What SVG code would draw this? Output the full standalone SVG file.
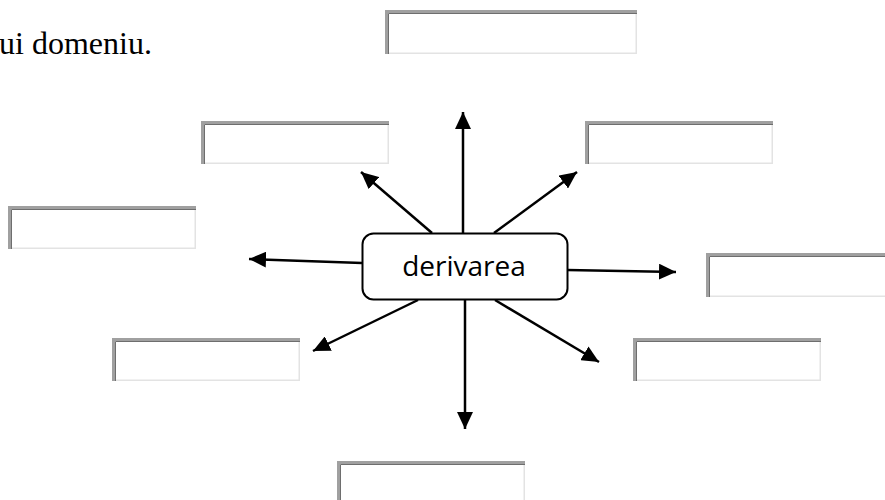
<svg xmlns="http://www.w3.org/2000/svg" width="885" height="500" viewBox="0 0 885 500">
<style>
.fb{fill:#ffffff;stroke:none}
.dk{fill:none;stroke:#a0a0a0;stroke-width:3}
.dk2{fill:none;stroke:#6e6e6e;stroke-width:1}
.lt{fill:none;stroke:#e3e3e3;stroke-width:1.5}
.con{stroke:#000;stroke-width:2.5;fill:none;marker-end:url(#ah)}
.t{font-family:"Liberation Serif","Times New Roman",serif;font-size:32px;fill:#000}
.c{font-family:"Open Sans","Liberation Sans",sans-serif;font-size:28px;fill:#000;text-anchor:middle}
</style>
<defs>
<marker id="ah" markerUnits="userSpaceOnUse" markerWidth="18" markerHeight="16" refX="17" refY="8" orient="auto" viewBox="0 0 18 16">
<path d="M0,0 L17,8 L0,16 Z" fill="#000"/>
</marker>
<g id="fieldShape">
<rect class="fb" x="0" y="0" width="188" height="43"/>
<path class="lt" d="M1,42.25 H187.25 V1"/>
<path class="dk" d="M1.5,43 V1.5 H188"/>
<path class="dk2" d="M3.5,43 V3.5 H188"/>
</g>
</defs>
<text class="t" x="-1" y="54">ui domeniu.</text>
<g id="connectors">
<line class="con" x1="463" y1="233" x2="463" y2="112"/>
<line class="con" x1="494" y1="233" x2="577" y2="172"/>
<line class="con" x1="432" y1="233" x2="361" y2="172"/>
<line class="con" x1="362" y1="263" x2="249" y2="259"/>
<line class="con" x1="567" y1="270" x2="676" y2="272"/>
<line class="con" x1="418" y1="300" x2="313" y2="351"/>
<line class="con" x1="495" y1="300" x2="599" y2="362"/>
<line class="con" x1="465" y1="299" x2="465" y2="429"/>
</g>
<g id="center">
<rect x="362.5" y="233.5" width="205" height="66" rx="11" ry="11" fill="#fff" stroke="#000" stroke-width="2"/>
<text class="c" x="464" y="276">derivarea</text>
</g>
<g id="box-top"><rect class="fb" x="385" y="10" width="251" height="44"/><path class="lt" d="M386,53.25 H636.25 V11"/><path class="dk" d="M386.5,54 V11.5 H637"/><path class="dk2" d="M388.5,54 V13.5 H637"/></g>
<g id="box-upper-left"><use href="#fieldShape" x="201" y="121"/></g>
<g id="box-upper-right"><use href="#fieldShape" x="585" y="121"/></g>
<g id="box-left"><use href="#fieldShape" x="8" y="206"/></g>
<g id="box-right"><rect class="fb" x="706" y="253" width="180" height="44"/><path class="lt" d="M707,296.25 H886"/><path class="dk" d="M707.5,297 V254.5 H886"/><path class="dk2" d="M709.5,297 V256.5 H886"/></g>
<g id="box-lower-left"><use href="#fieldShape" x="112" y="338"/></g>
<g id="box-lower-right"><use href="#fieldShape" x="633" y="338"/></g>
<g id="box-bottom"><use href="#fieldShape" x="337" y="461"/></g>
</svg>
